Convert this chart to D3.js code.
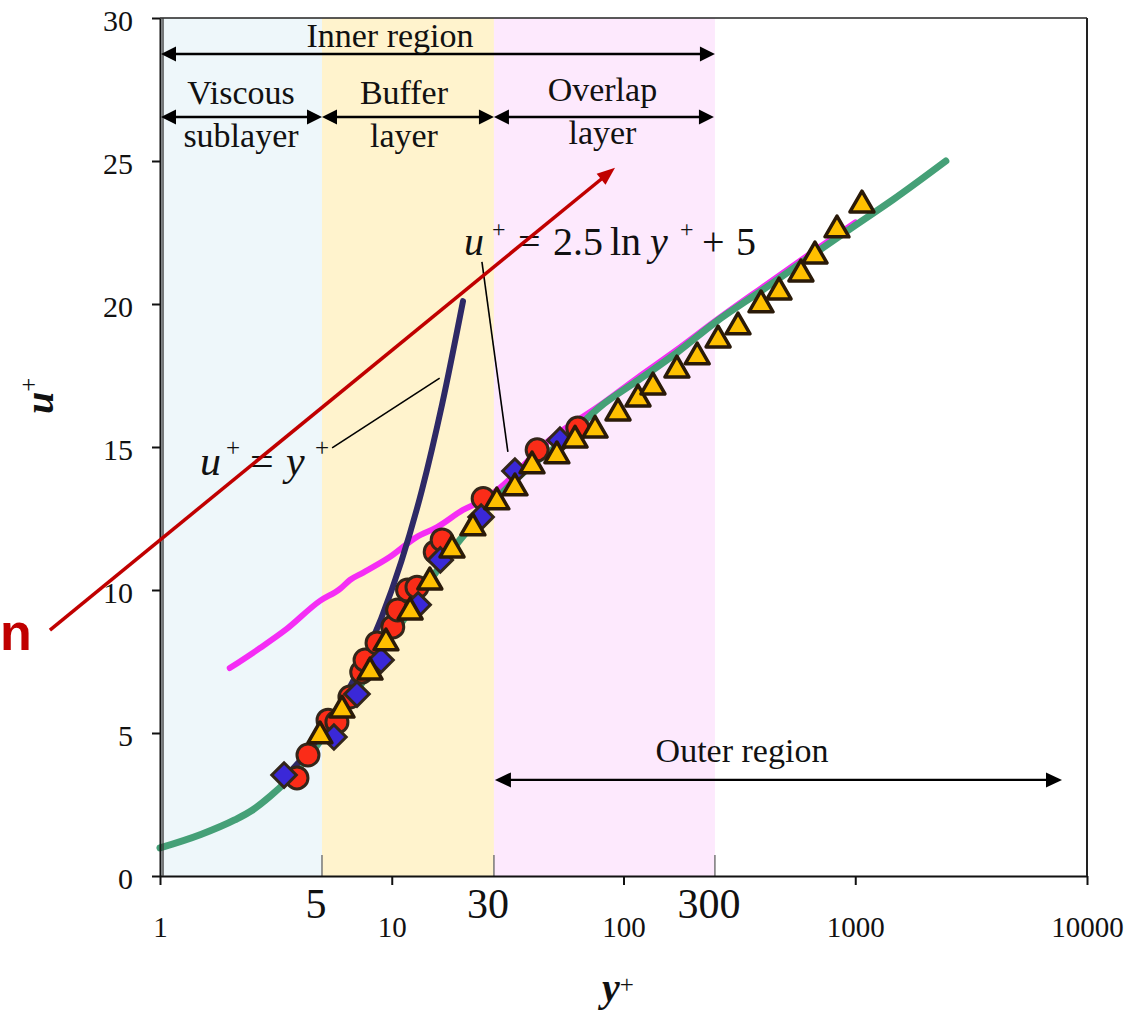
<!DOCTYPE html>
<html><head><meta charset="utf-8">
<script src="https://cdn.jsdelivr.net/npm/d3@7"></script>
<style>body{margin:0;background:#fff;} svg{display:block;}</style>
</head><body>
<svg id="chart" width="1145" height="1012"></svg>
<script>
// ---------- data ----------
const xTickValues = [1, 10, 100, 1000, 10000];
const xTickLabels = ["1", "10", "100", "1000", "10000"];
const yTickValues = [0, 5, 10, 15, 20, 25, 30];
const regionEdges = [1, 5, 27.6, 248];
const regionEdgeLabels = ["5", "30", "300"];
const regionNames = ["viscous", "buffer", "overlap"];

// green profile line
const greenX = [1, 1.5, 2.1, 2.5, 3.0, 3.5, 4.2, 5, 6, 7.5, 9, 11, 14, 18, 23, 30, 40, 55, 79, 114, 170, 248, 400, 650, 1000, 1456, 2460];
const greenU = [0.98, 1.45, 1.96, 2.3, 2.8, 3.3, 4.0, 4.8, 5.6, 6.8, 7.85, 8.85, 10.1, 11.35, 12.4, 13.4, 14.35, 15.2, 16.4, 17.3, 18.3, 19.35, 20.5, 21.7, 22.75, 23.65, 25.0];
// magenta log-law line
const magentaX = [2.0, 2.7, 3.5, 4.9, 6.0, 6.6, 7.5, 9.8, 12.8, 15.7, 20.3, 24.8, 29.3, 48, 79, 114, 170, 248, 400, 650, 1000];
const magentaU = [7.27, 7.97, 8.62, 9.62, 10.05, 10.35, 10.6, 11.15, 11.85, 12.2, 12.8, 13.15, 13.57, 15.25, 16.45, 17.4, 18.4, 19.4, 20.6, 21.8, 22.85];
// navy u+=y+ line
const linearX = [3.5, 4.5, 5.5, 7, 9, 11, 13.5, 16.5, 20.3];
const linearU = [3.5, 4.5, 5.5, 7, 9, 11, 13.5, 16.5, 20.1];
// red circles
const circleX = [3.90, 4.35, 5.31, 5.80, 6.60, 7.42, 7.67, 8.64, 10.1, 10.6, 11.7, 12.85, 15.4, 16.5, 24.8, 42.4, 63.5];
const circleU = [3.43, 4.23, 5.45, 5.38, 6.26, 7.13, 7.55, 8.15, 8.71, 9.30, 10.0, 10.1, 11.33, 11.75, 13.2, 14.9, 15.66];
// blue diamonds
const diamondX = [3.43, 5.63, 7.08, 8.99, 13.0, 16.2, 24.3, 34.0, 53.2];
const diamondU = [3.53, 4.86, 6.36, 7.55, 9.48, 11.05, 12.55, 14.16, 15.24];
// yellow triangles
const triangleX = [4.90, 6.10, 8.06, 9.44, 12.0, 14.6, 18.2, 22.4, 28.4, 34.0, 40.3, 51.6, 61.8, 75.4, 94.7, 115.5, 134, 170, 208, 256, 312, 392, 469, 583, 670, 834, 1069];
const triangleU = [4.90, 5.80, 7.13, 8.15, 9.23, 10.28, 11.40, 12.17, 13.08, 13.57, 14.34, 14.69, 15.24, 15.59, 16.19, 16.68, 17.10, 17.69, 18.15, 18.74, 19.20, 19.97, 20.42, 21.05, 21.68, 22.59, 23.46];

// annotation anchors (data coordinates)
const innerArrow = {x1: 1, x2: 248, u: 28.74};
const layerArrowU = 26.54;
const outerArrow = {x1: 27.6, x2: 7800, u: 3.36};
const redArrow = {x1: 0.335, u1: 8.6, x2: 91.9, u2: 24.76};
const leaderLinear = {x1: 5.53, u1: 14.97, x2: 16.1, u2: 17.41};
const leaderLog = {x1: 24.5, u1: 21.47, x2: 31.7, u2: 14.83};

// ---------- scales ----------
const svg = d3.select("#chart");
const x = d3.scaleLog().domain([1, 10000]).range([160, 1087]);
const y = d3.scaleLinear().domain([0, 30]).range([876, 18]);
const serif = "'Liberation Serif','Times New Roman',serif";

// regions
const regionFill = ["#eef7fa", "#fff3cd", "#fde9fd"];
svg.append("g").selectAll("rect").data(regionNames).join("rect")
  .attr("x", (d, i) => x(regionEdges[i]))
  .attr("width", (d, i) => x(regionEdges[i + 1]) - x(regionEdges[i]))
  .attr("y", y(30)).attr("height", y(0) - y(30))
  .attr("fill", (d, i) => regionFill[i]);

// small boundary marks at bottom
svg.append("g").selectAll("line").data(regionEdges.slice(1)).join("line")
  .attr("x1", d => x(d)).attr("x2", d => x(d))
  .attr("y1", y(0) - 21).attr("y2", y(0))
  .attr("stroke", "#777").attr("stroke-width", 1.5);

// lines
const zip = (a, b) => a.map((v, i) => [v, b[i]]);
const smooth = d3.line().x(d => x(d[0])).y(d => y(d[1])).curve(d3.curveMonotoneX);
svg.append("path").attr("d", smooth(zip(magentaX, magentaU)))
  .attr("fill", "none").attr("stroke", "#f52df5").attr("stroke-width", 6).attr("stroke-linecap", "round");
svg.append("path").attr("d", smooth(zip(greenX, greenU)))
  .attr("fill", "none").attr("stroke", "#45a077").attr("stroke-width", 7).attr("stroke-linecap", "round");
svg.append("path").attr("d", smooth(zip(linearX, linearU)))
  .attr("fill", "none").attr("stroke", "#2e2966").attr("stroke-width", 6).attr("stroke-linecap", "round");

// markers
const strokeDark = "#33261a";
svg.append("g").selectAll("circle").data(zip(circleX, circleU)).join("circle")
  .attr("cx", d => x(d[0])).attr("cy", d => y(d[1])).attr("r", 11)
  .attr("fill", "#fa2c18").attr("stroke", strokeDark).attr("stroke-width", 3);
svg.append("g").selectAll("path").data(zip(diamondX, diamondU)).join("path")
  .attr("d", d3.symbol(d3.symbolSquare, 300)())
  .attr("transform", d => `translate(${x(d[0])},${y(d[1])}) rotate(45)`)
  .attr("fill", "#3a28d8").attr("stroke", strokeDark).attr("stroke-width", 3);
svg.append("g").selectAll("path").data(zip(triangleX, triangleU)).join("path")
  .attr("d", d3.symbol(d3.symbolTriangle, 250)())
  .attr("transform", d => `translate(${x(d[0])},${y(d[1])})`)
  .attr("fill", "#ffc000").attr("stroke", "#2a1a08").attr("stroke-width", 3.5).attr("stroke-linejoin", "round");

// axes
const xAxis = svg.append("g").attr("transform", `translate(0,${y(0)})`)
  .call(d3.axisBottom(x).tickValues(xTickValues).tickFormat((d, i) => xTickLabels[i]).tickSizeInner(9).tickSizeOuter(0));
xAxis.select(".domain").attr("stroke", "#111").attr("stroke-width", 2);
xAxis.selectAll(".tick line").attr("stroke", "#111").attr("stroke-width", 2);
xAxis.selectAll(".tick text").attr("y", 61).attr("dy", 0).attr("fill", "#111")
  .style("font-family", serif).style("font-size", "29px");

const yAxis = svg.append("g").attr("transform", `translate(${x(1)},0)`)
  .call(d3.axisLeft(y).tickValues(yTickValues).tickSizeInner(8).tickSizeOuter(0).tickPadding(19));
yAxis.select(".domain").attr("stroke", "#111").attr("stroke-width", 2);
yAxis.selectAll(".tick line").attr("stroke", "#111").attr("stroke-width", 2);
yAxis.selectAll(".tick text").attr("dy", "0.42em").attr("fill", "#111")
  .style("font-family", serif).style("font-size", "30px");

// frame
svg.append("line").attr("x1", x(1)).attr("x2", x(10000)).attr("y1", y(30)).attr("y2", y(30))
  .attr("stroke", "#222").attr("stroke-width", 1.5);
svg.append("line").attr("x1", x(10000)).attr("x2", x(10000)).attr("y1", y(30)).attr("y2", y(0))
  .attr("stroke", "#222").attr("stroke-width", 2);
svg.append("line").attr("x1", x(1) + 3).attr("x2", x(1) + 3).attr("y1", y(30)).attr("y2", y(0))
  .attr("stroke", "#333").attr("stroke-width", 1.3);

// boundary labels 5, 30, 300
svg.append("g").selectAll("text").data(regionEdgeLabels).join("text")
  .attr("x", (d, i) => x(regionEdges[i + 1]) - 6).attr("y", y(0) + 42)
  .attr("text-anchor", "middle").attr("fill", "#111")
  .style("font-family", serif).style("font-size", "42px").text(d => d);

// arrows
function arrow(x1, y1, x2, y2, opt) {
  const o = Object.assign({color: "#000", width: 2.5, len: 15, half: 7.5, start: true, end: true}, opt || {});
  const dx = x2 - x1, dy = y2 - y1, L = Math.hypot(dx, dy), ux = dx / L, uy = dy / L;
  const g = svg.append("g");
  const sx = o.start ? x1 + ux * o.len * 0.8 : x1, sy = o.start ? y1 + uy * o.len * 0.8 : y1;
  const ex = o.end ? x2 - ux * o.len * 0.8 : x2, ey = o.end ? y2 - uy * o.len * 0.8 : y2;
  g.append("line").attr("x1", sx).attr("y1", sy).attr("x2", ex).attr("y2", ey)
    .attr("stroke", o.color).attr("stroke-width", o.width);
  const head = (tx, ty, vx, vy) => {
    const bx = tx - vx * o.len, by = ty - vy * o.len;
    g.append("path").attr("d", `M${tx},${ty}L${bx - vy * o.half},${by + vx * o.half}L${bx + vy * o.half},${by - vx * o.half}Z`)
      .attr("fill", o.color);
  };
  if (o.end) head(x2, y2, ux, uy);
  if (o.start) head(x1, y1, -ux, -uy);
}
arrow(x(innerArrow.x1) + 1, y(innerArrow.u), x(innerArrow.x2), y(innerArrow.u));
for (let i = 0; i < 3; i++) {
  arrow(x(regionEdges[i]) + (i === 0 ? 1 : 0), y(layerArrowU), x(regionEdges[i + 1]) + (i === 2 ? -1 : 0), y(layerArrowU));
}
arrow(x(outerArrow.x1) + 1, y(outerArrow.u), x(outerArrow.x2), y(outerArrow.u), {width: 2.2, len: 16});

// region text
function label(txt, cx, by, size) {
  svg.append("text").attr("x", cx).attr("y", by).attr("text-anchor", "middle").attr("fill", "#111")
    .style("font-family", serif).style("font-size", size + "px").text(txt);
}
const mid = (a, b) => Math.sqrt(a * b);
label("Inner region", 390, 47, 34);
label("Viscous", x(mid(regionEdges[0], regionEdges[1])), 104, 34);
label("sublayer", x(mid(regionEdges[0], regionEdges[1])), 147, 34);
label("Buffer", x(mid(regionEdges[1], regionEdges[2])) - 4, 104, 34);
label("layer", x(mid(regionEdges[1], regionEdges[2])) - 4, 147, 34);
label("Overlap", x(mid(regionEdges[2], regionEdges[3])) - 2, 101, 34);
label("layer", x(mid(regionEdges[2], regionEdges[3])) - 2, 144, 34);
label("Outer region", 742, 762, 34);

// leader lines
svg.append("line").attr("x1", x(leaderLinear.x1)).attr("y1", y(leaderLinear.u1))
  .attr("x2", x(leaderLinear.x2)).attr("y2", y(leaderLinear.u2)).attr("stroke", "#000").attr("stroke-width", 1.6);
svg.append("line").attr("x1", x(leaderLog.x1)).attr("y1", y(leaderLog.u1))
  .attr("x2", x(leaderLog.x2)).attr("y2", y(leaderLog.u2)).attr("stroke", "#000").attr("stroke-width", 1.6);

// equations
function equation(ax, ay, pieces, size) {
  const g = svg.append("g").attr("transform", `translate(${ax},${ay})`);
  pieces.forEach(p => {
    g.append("text").attr("x", p[1]).attr("y", p[2] || 0).attr("fill", "#111")
      .style("font-family", serif).style("font-size", (p[3] || size) + "px")
      .style("font-style", p[4] ? "italic" : "normal").text(p[0]);
  });
}
equation(200, 475, [["u", 0, 0, null, 1], ["+", 26, -19, 25], ["=", 50, 0], ["y", 86, 0, null, 1], ["+", 115, -19, 25]], 42);
equation(464, 255, [["u", 0, 0, null, 1], ["+", 28, -18, 24], ["=", 54, 0], ["2.5", 89, 0], ["ln", 146, 0], ["y", 186, 0, null, 1], ["+", 216, -18, 24], ["+", 238, 0], ["5", 272, 0]], 40);

// red arrow and label
arrow(x(redArrow.x1), y(redArrow.u1), x(redArrow.x2), y(redArrow.u2), {color: "#c00000", width: 3.5, len: 18, half: 7, start: false});
svg.append("text").attr("x", 0).attr("y", 650).attr("fill", "#c00000")
  .style("font-family", "'Liberation Sans',Arial,sans-serif").style("font-weight", "bold").style("font-size", "52px").text("n");

// axis titles
const yt = svg.append("text").attr("transform", "translate(53,414) rotate(-90)").attr("fill", "#111")
  .style("font-family", serif).style("font-weight", "bold").style("font-style", "italic").style("font-size", "40px");
yt.append("tspan").text("u");
yt.append("tspan").attr("dy", -16).style("font-size", "25px").style("font-style", "normal").style("font-weight", "normal").text("+");
const xt = svg.append("text").attr("x", 602).attr("y", 1001).attr("fill", "#111")
  .style("font-family", serif).style("font-weight", "bold").style("font-style", "italic").style("font-size", "40px");
xt.append("tspan").text("y");
xt.append("tspan").attr("dy", -8).style("font-size", "25px").style("font-style", "normal").style("font-weight", "normal").text("+");
</script>
</body></html>
